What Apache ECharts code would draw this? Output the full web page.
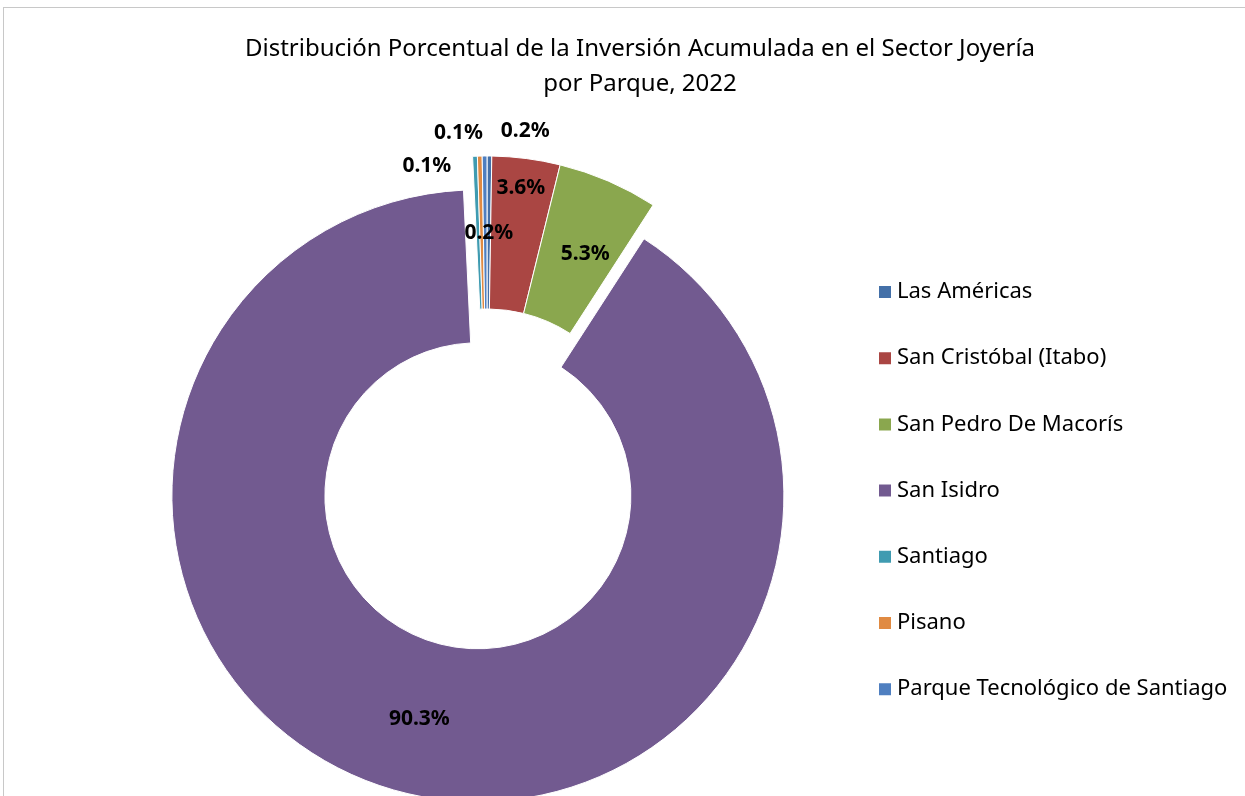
<!DOCTYPE html>
<html>
<head>
<meta charset="utf-8">
<script src="https://cdn.jsdelivr.net/npm/echarts@6/dist/echarts.min.js"></script>
<style>
  html, body { margin: 0; padding: 0; background: #fff; }
  #main { width: 1245px; height: 796px; }
  #frame { position: absolute; left: 3px; top: 7px; width: 1260px; height: 800px;
           border-left: 1px solid #c8c8c8; border-top: 1px solid #c8c8c8; pointer-events: none; }
</style>
</head>
<body>
<div id="main"></div>
<div id="frame"></div>
<script>
// datos
var parques = ['Las Américas', 'San Cristóbal (Itabo)', 'San Pedro De Macorís', 'San Isidro', 'Santiago', 'Pisano', 'Parque Tecnológico de Santiago'];
var porcentajes = [0.2, 3.6, 5.3, 90.3, 0.1, 0.1, 0.2];
var colores = ['#4470a8', '#aa4643', '#8aa74e', '#725a90', '#3f9bb1', '#e08a42', '#4f7fc0'];

// desplazamiento de etiquetas (como en Excel)
var etiquetaDx = [0, 4, 6, 2, -51, -23, 40];
var etiquetaDy = [4, -43, 5, -1, -64, -97, -98];

var myChart = echarts.init(document.getElementById('main'));

var datos = parques.map(function (p, i) {
  return {
    name: p,
    value: porcentajes[i],
    selected: i === 3,
    itemStyle: { color: colores[i] }
  };
});

var option = {
  animation: false,
  title: {
    text: 'Distribución Porcentual de la Inversión Acumulada en el Sector Joyería\npor Parque, 2022',
    left: 635,
    textAlign: 'center',
    top: 27,
    textStyle: { fontFamily: 'Noto Sans', fontSize: 24, fontWeight: 'normal', color: '#000', lineHeight: 35 }
  },
  legend: {
    orient: 'vertical',
    left: 872,
    top: 276,
    icon: 'rect',
    itemWidth: 14,
    itemHeight: 14,
    itemGap: 44.2,
    selectedMode: false,
    textStyle: { fontFamily: 'Noto Sans', fontSize: 22, color: '#000' },
    data: parques
  },
  series: [{
    type: 'pie',
    center: [487, 462],
    radius: [153, 306],
    startAngle: 90,
    clockwise: true,
    minAngle: 0.9,
    selectedMode: 'multiple',
    selectedOffset: 35,
    avoidLabelOverlap: false,
    emphasis: { disabled: true },
    itemStyle: { borderColor: '#fff', borderWidth: 1 },
    label: {
      show: true,
      position: 'inside',
      formatter: function (p) { return p.value.toFixed(1) + '%'; },
      fontFamily: 'Noto Sans',
      fontSize: 21,
      fontWeight: 'bold',
      color: '#000'
    },
    labelLine: { show: false },
    labelLayout: function (params) {
      return { dx: etiquetaDx[params.dataIndex], dy: etiquetaDy[params.dataIndex] };
    },
    data: datos
  }]
};

myChart.setOption(option);
</script>
</body>
</html>
